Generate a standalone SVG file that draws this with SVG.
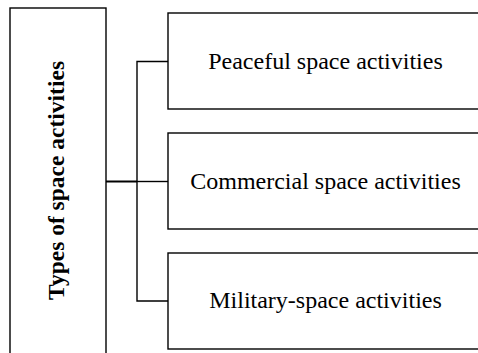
<svg xmlns="http://www.w3.org/2000/svg" width="478" height="353" viewBox="0 0 478 353">
<style>
.box{fill:#fff;stroke:#000;stroke-width:1.4}
.lbl{font-family:"Liberation Serif","Times New Roman",serif;font-size:24px;fill:#000;text-anchor:middle}
.ttl{font-family:"Liberation Serif","Times New Roman",serif;font-size:23.5px;font-weight:bold;fill:#000;text-anchor:middle}
.con{fill:none;stroke:#000;stroke-width:1.4}
</style>
<rect width="478" height="353" fill="#fff"/>
<g id="types">
<rect class="box" x="10" y="8" width="96" height="360"/>
<text class="ttl" transform="translate(64,180.5) rotate(-90)">Types of space activities</text>
</g>
<g id="peaceful">
<rect class="box" x="168" y="13" width="320" height="96"/>
<text class="lbl" x="325.5" y="69">Peaceful space activities</text>
</g>
<g id="commercial">
<rect class="box" x="168" y="133" width="320" height="96"/>
<text class="lbl" x="325.5" y="189">Commercial space activities</text>
</g>
<g id="military">
<rect class="box" x="168" y="253" width="320" height="96"/>
<text class="lbl" x="325.5" y="307.5">Military-space activities</text>
</g>
<g id="connectors">
<path class="con" d="M106 181.5H137" style="stroke-width:2"/>
<path class="con" d="M137 181.5H168"/>
<path class="con" d="M168 61.5H137V301H168"/>
</g>
</svg>
